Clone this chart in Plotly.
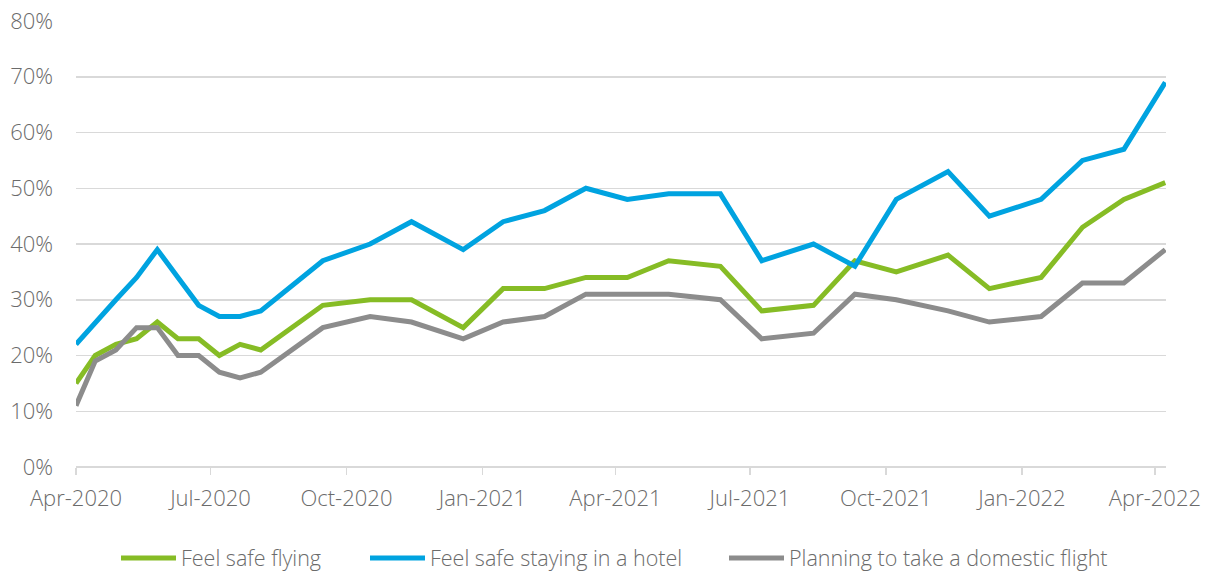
import plotly.graph_objects as go

dates = ["2020-04-01", "2020-04-14", "2020-04-28", "2020-05-12", "2020-05-26",
         "2020-06-09", "2020-06-23", "2020-07-07", "2020-07-21", "2020-08-04",
         "2020-09-15", "2020-10-17", "2020-11-14", "2020-12-19", "2021-01-15",
         "2021-02-12", "2021-03-12", "2021-04-09", "2021-05-07", "2021-06-11",
         "2021-07-09", "2021-08-13", "2021-09-10", "2021-10-08", "2021-11-12",
         "2021-12-10", "2022-01-14", "2022-02-11", "2022-03-11", "2022-04-08"]

feel_safe_flying = [15, 20, 22, 23, 26, 23, 23, 20, 22, 21,
                    29, 30, 30, 25, 32, 32, 34, 34, 37, 36,
                    28, 29, 37, 35, 38, 32, 34, 43, 48, 51]

feel_safe_hotel = [22, 26, 30, 34, 39, 34, 29, 27, 27, 28,
                   37, 40, 44, 39, 44, 46, 50, 48, 49, 49,
                   37, 40, 36, 48, 53, 45, 48, 55, 57, 69]

planning_domestic = [11, 19, 21, 25, 25, 20, 20, 17, 16, 17,
                     25, 27, 26, 23, 26, 27, 31, 31, 31, 30,
                     23, 24, 31, 30, 28, 26, 27, 33, 33, 39]

series_names = ["Feel safe flying", "Feel safe staying in a hotel",
                "Planning to take a domestic flight"]

y_ticks = [0, 10, 20, 30, 40, 50, 60, 70, 80]
y_tick_labels = [f"{v}%" for v in y_ticks]

colors = ["#86BC25", "#00A3E0", "#8C8C8C"]
text_color = "#6B6B6B"
grid_color = "#D9D9D9"
font_family = "Open Sans, Roboto, sans-serif"
W, H = 1208, 571

fig = go.Figure()
series = [feel_safe_flying, feel_safe_hotel, planning_domestic]
legend_ids = ["legend", "legend2", "legend3"]
for name, vals, col, lg in zip(series_names, series, colors, legend_ids):
    fig.add_trace(go.Scatter(
        x=dates, y=vals, name=name, mode="lines",
        line=dict(color=col, width=5, shape="linear"),
        legend=lg, hoverinfo="skip",
    ))

axis_font = dict(family=font_family, size=22, color=text_color, weight=300)
legend_font = dict(family=font_family, size=21.5, color=text_color, weight=300)
legend_common = dict(orientation="h", xref="container", yref="container",
                     yanchor="middle", y=1 - 558 / H, xanchor="left",
                     bgcolor="rgba(0,0,0,0)", borderwidth=0, itemwidth=55,
                     font=legend_font)

fig.update_layout(
    width=W, height=H,
    margin=dict(l=76, r=42, t=21, b=104, autoexpand=False),
    paper_bgcolor="white", plot_bgcolor="white",
    font=axis_font,
    showlegend=True,
    legend=dict(legend_common, x=116 / W),
    legend2=dict(legend_common, x=365 / W),
    legend3=dict(legend_common, x=724 / W),
    xaxis=dict(
        type="date", automargin=False, ticklabeloverflow="allow",
        range=["2020-04-01", "2022-04-08 12:00"],
        tick0="2020-04-01", dtick="M3", tickformat="%b-%Y",
        ticks="outside", ticklen=7, tickwidth=1.5, tickcolor=grid_color,
        ticklabelstandoff=5,
        showline=False, showgrid=False, zeroline=False,
        tickfont=axis_font,
    ),
    yaxis=dict(
        range=[0, 80], tickvals=y_ticks, ticktext=y_tick_labels,
        automargin=False, ticklabeloverflow="allow",
        showgrid=True, gridcolor=grid_color, gridwidth=1.5,
        zeroline=True, zerolinecolor=grid_color, zerolinewidth=1.5,
        showline=False, ticks="", ticklabelstandoff=22,
        tickfont=axis_font,
    ),
)

# remove the browser's default 8px page margin so the figure fills the window
fig.write_html("out.html",
               config={"displayModeBar": False, "staticPlot": True},
               post_script="document.body.style.margin='0';document.body.style.overflow='hidden';")
